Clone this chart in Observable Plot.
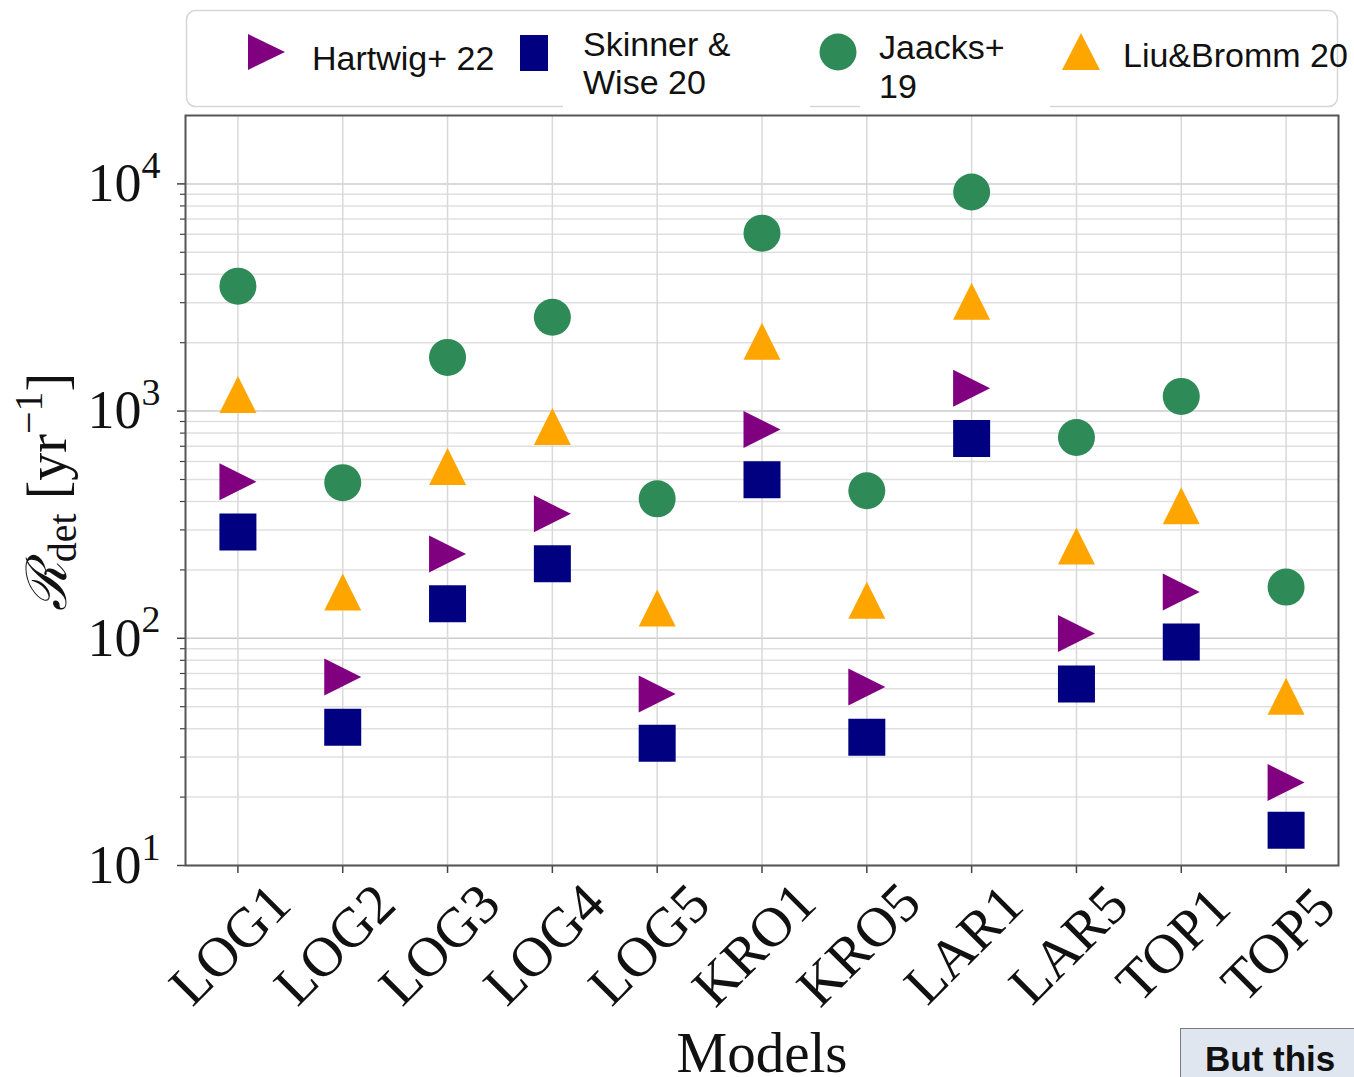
<!DOCTYPE html>
<html>
<head>
<meta charset="utf-8">
<script src="https://cdn.jsdelivr.net/npm/d3@7"></script>
<script src="https://cdn.jsdelivr.net/npm/@observablehq/plot@0.6"></script>
<style>
  html, body { margin: 0; padding: 0; background: #fff; overflow: hidden; }
  #page { position: relative; width: 1354px; height: 1077px; overflow: hidden; background: #fff; }
  #chart { position: absolute; left: 0; top: 0; }
  #legend { position: absolute; left: 0; top: 0; }
  #note {
    position: absolute; left: 1180px; top: 1028px; width: 220px; height: 70px;
    background: #dfe6ef; border: 1.5px solid #7a7a7a; box-sizing: border-box;
    font-family: "Liberation Sans", Arial, sans-serif; font-weight: bold; font-size: 35px;
    color: #111; padding: 10px 0 0 24px;
  }
</style>
</head>
<body>
<div id="page">
  <div id="chart"></div>
  <svg id="legend" width="1354" height="120"></svg>
  <div id="note">But this</div>
</div>
<script>
// ---- data ----
const categories = ["LOG1", "LOG2", "LOG3", "LOG4", "LOG5", "KRO1", "KRO5", "LAR1", "LAR5", "TOP1", "TOP5"];
const hartwig  = [489, 67.5, 235, 353, 56.8, 830, 61, 1259, 105, 160, 23.2];
const skinner  = [294, 40.6, 142, 213, 34.5, 499, 36.7, 757, 62.9, 96.3, 14.3];
const jaacks   = [3548, 484, 1723, 2588, 411, 6070, 446, 9210, 765, 1160, 168];
const liuBromm = [1184, 160, 570, 855, 136, 2028, 147, 3043, 255, 383, 55.6];
const majorTicks = [10, 100, 1000, 10000];
const tickExponents = ["1", "2", "3", "4"];
const minorTicks = [20, 30, 40, 50, 60, 70, 80, 90,
                    200, 300, 400, 500, 600, 700, 800, 900,
                    2000, 3000, 4000, 5000, 6000, 7000, 8000, 9000];
const seriesNames = ["Hartwig+ 22", "Skinner & Wise 20", "Jaacks+ 19", "Liu&Bromm 20"];
const seriesColors = ["#800080", "#000080", "#2e8b57", "#ffa500"];

const table = categories.map((m, i) => ({model: m, hartwig: hartwig[i], skinner: skinner[i], jaacks: jaacks[i], liu: liuBromm[i]}));

// ---- custom symbols (bbox-centred, like matplotlib markers) ----
const mk = (fn) => ({draw(ctx, size) { const h = Math.sqrt(size / Math.PI); fn(ctx, h); }});
const squareSym = mk((c, h) => { c.moveTo(-h, -h); c.lineTo(h, -h); c.lineTo(h, h); c.lineTo(-h, h); c.closePath(); });
const triUpSym = mk((c, h) => { c.moveTo(0, -h); c.lineTo(h, h); c.lineTo(-h, h); c.closePath(); });
const triRightSym = mk((c, h) => { c.moveTo(h, 0); c.lineTo(-h, h); c.lineTo(-h, -h); c.closePath(); });

const R = 18.5;
const serif = "'Liberation Serif', 'Times New Roman', serif";

const chart = Plot.plot({
  width: 1354,
  height: 1077,
  marginTop: 115,
  marginRight: 16,
  marginBottom: 212,
  marginLeft: 185,
  style: {fontFamily: serif, background: "transparent", overflow: "visible", color: "#111"},
  x: {type: "point", domain: categories, padding: 0.5, round: false, axis: null, label: null},
  y: {type: "log", domain: [10, 20000], axis: null, label: null},
  marks: [
    Plot.ruleY(minorTicks, {stroke: "#e0e0e0", strokeWidth: 1.5}),
    Plot.ruleY(majorTicks, {stroke: "#cccccc", strokeWidth: 1.5}),
    Plot.ruleX(categories, {stroke: "#d9d9d9", strokeWidth: 1.5}),
    Plot.axisY({ticks: majorTicks, tickSize: 8, tickFormat: () => "", label: null, stroke: "#444", strokeWidth: 1.5}),
    Plot.axisY({ticks: minorTicks, tickSize: 5, tickFormat: () => "", label: null, stroke: "#444", strokeWidth: 1.2}),
    Plot.axisX({tickSize: 8, tickFormat: () => "", label: null, stroke: "#444", strokeWidth: 1.5}),
    Plot.frame({stroke: "#555", strokeWidth: 2}),
    Plot.dot(table, {x: "model", y: "hartwig", r: R, symbol: triRightSym, fill: seriesColors[0], stroke: "none"}),
    Plot.dot(table, {x: "model", y: "skinner", r: R, symbol: squareSym, fill: seriesColors[1], stroke: "none"}),
    Plot.dot(table, {x: "model", y: "jaacks", r: R, symbol: "circle", fill: seriesColors[2], stroke: "none"}),
    Plot.dot(table, {x: "model", y: "liu", r: R, symbol: triUpSym, fill: seriesColors[3], stroke: "none"}),
    Plot.text(majorTicks, {y: d => d, text: () => "10", frameAnchor: "left", dx: -44, textAnchor: "end", fontSize: 54, fill: "#111"}),
    Plot.text(majorTicks, {y: d => d, text: (d, i) => tickExponents[i], frameAnchor: "left", dx: -44, dy: -18, textAnchor: "start", fontSize: 38, fill: "#111"}),
    Plot.text(categories, {x: d => d, text: d => d, frameAnchor: "bottom", dx: 5, dy: 92, rotate: -45, textAnchor: "middle", fontSize: 56, fill: "#111"}),
    Plot.text(["Models"], {text: d => d, frameAnchor: "bottom", dy: 206, fontSize: 57, fill: "#111"})
  ]
});
document.getElementById("chart").appendChild(chart);

// ---- y-axis label with sub/superscripts ----
const svg = d3.select(chart);
const yl = svg.append("text")
  .attr("transform", "translate(66,492) rotate(-90)")
  .attr("text-anchor", "middle")
  .attr("font-family", serif)
  .attr("font-size", 56)
  .attr("fill", "#111");
yl.append("tspan").attr("font-style", "italic").text("ℛ");
yl.append("tspan").attr("font-size", 40).attr("dy", 10).text("det");
yl.append("tspan").attr("dy", -10).text(" [yr");
yl.append("tspan").attr("font-size", 40).attr("dy", -24).text("−1");
yl.append("tspan").attr("dy", 24).text("]");

// ---- legend ----
const lg = d3.select("#legend");
lg.append("rect").attr("x", 186.5).attr("y", 10.5).attr("width", 1151).attr("height", 96).attr("rx", 9)
  .attr("fill", "#fff").attr("stroke", "#d6d6d6").attr("stroke-width", 1.5);
lg.append("rect").attr("x", 563).attr("y", 18).attr("width", 247).attr("height", 94).attr("fill", "#fff");
lg.append("rect").attr("x", 860).attr("y", 18).attr("width", 190).attr("height", 96).attr("fill", "#fff");
const sans = "'Liberation Sans', Arial, sans-serif";
const lt = (x, y, s) => lg.append("text").attr("x", x).attr("y", y).attr("font-family", sans).attr("font-size", 34).attr("fill", "#111").text(s);
lg.append("path").attr("d", "M248,34 L285,52 L248,70 Z").attr("fill", seriesColors[0]);
lt(312, 70, "Hartwig+ 22");
lg.append("rect").attr("x", 520).attr("y", 35).attr("width", 28).attr("height", 36).attr("fill", seriesColors[1]);
lt(583, 56, "Skinner &");
lt(583, 94, "Wise 20");
lg.append("circle").attr("cx", 838).attr("cy", 52).attr("r", 18.5).attr("fill", seriesColors[2]);
lt(879, 59, "Jaacks+");
lt(879, 98, "19");
lg.append("path").attr("d", "M1081,33 L1100,70 L1062,70 Z").attr("fill", seriesColors[3]);
lt(1123, 67, "Liu&Bromm 20");
</script>
</body>
</html>
